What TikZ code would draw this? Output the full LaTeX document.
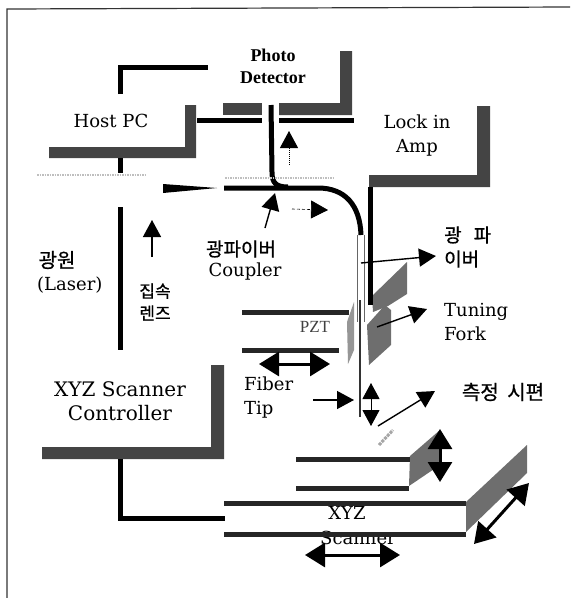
\documentclass[tikz,border=0pt]{standalone}
\usepackage{fontspec}
\usepackage{tikz}
\usetikzlibrary{arrows.meta,positioning,calc}
\setmainfont{DejaVu Serif}
\newfontfamily\korfont[FakeBold=0.8]{Noto Sans CJK KR}
\newfontfamily\timesfont{Liberation Serif}
\definecolor{bardark}{RGB}{68,68,68}
\definecolor{barside}{RGB}{110,110,110}
\definecolor{barlight}{RGB}{150,150,150}
\tikzset{
  wire/.style={line width=5pt, black},
  stageline/.style={line width=5pt, black!85},
  greybar/.style={fill=bardark, draw=none},
  sideface/.style={fill=barside, draw=none},
  faint/.style={line width=1.5pt, black!25, densely dotted},
  upperhead/.style={-{Triangle[length=17pt,width=18pt]}, line width=1.4pt},
  twohead/.style={{Triangle[length=20pt,width=24pt]}-{Triangle[length=20pt,width=24pt]}, line width=3pt},
  smalltwohead/.style={{Triangle[length=16pt,width=17pt]}-{Triangle[length=16pt,width=17pt]}, line width=1pt},
  textlabel/.style={align=center, inner sep=0pt, font=\fontsize{18}{24}\selectfont},
  korlabel/.style={align=center, inner sep=0pt, font=\korfont\fontsize{19}{24}\selectfont}
}

\begin{document}
\begin{tikzpicture}[x=1pt,y=-1pt]
  \useasboundingbox (0,0) rectangle (579,598);
  % frame: only top and left survive
  \draw[line width=1.2pt, black!80] (7,598) -- (7,9) -- (570,7);

  % grey housing bars
  \fill[greybar] (49,147) -- (185,147) -- (185,105) -- (196,105) -- (196,158) -- (49,158) -- cycle;
  \fill[greybar] (223,103) rectangle (262,115);
  \fill[greybar] (279,103) -- (340,103) -- (340,51) -- (352,51) -- (352,115) -- (279,115) -- cycle;
  \fill[greybar] (369,175) -- (477,175) -- (477,106) -- (490,106) -- (490,187) -- (369,187) -- cycle;
  \fill[greybar] (42,447) -- (211,447) -- (211,365) -- (224,365) -- (224,459) -- (42,459) -- cycle;

  % tuning fork, pzt and stage side faces
  \fill[barside] (372,296) -- (407,262) -- (407,294) -- (388,306) -- (373,312) -- cycle;
  \fill[barside] (367,325) -- (385,305) -- (391,310) -- (391,345) -- (369,365) -- cycle;
  \fill[barlight] (347,322) -- (354,302) -- (354,350) -- (348,364) -- cycle;
  \fill[sideface] (410,456) -- (440,430) -- (440,465) -- (409,486) -- cycle;
  \fill[sideface] (466,502) -- (527,445) -- (527,473) -- (466,532) -- cycle;

  % labels
  \node[textlabel] (hostpc) at (111,121) {Host PC};
  \node[align=center, inner sep=0pt, font=\timesfont\bfseries\fontsize{18}{22}\selectfont] (detector) at (273,66) {Photo\\Detector};
  \node[textlabel] (lockin) at (417,136) {Lock in\\Amp};
  \node[korlabel, font=\korfont\fontsize{20}{24}\selectfont] (laserkr) at (57,260) {광원};
  \node[textlabel, anchor=west] (laser) at (37,285) {(Laser)};
  \node[korlabel, font=\korfont\fontsize{17}{22}\selectfont] (lens) at (155,302) {집속\\렌즈};
  \node[korlabel] (couplerkr) at (241,249) {광파이버};
  \node[textlabel] (coupler) at (245,272) {Coupler};
  \node[korlabel, align=left, anchor=west] (fiberkr) at (444,247) {광\hspace{12pt}파\\이버};
  \node[textlabel, align=left, anchor=west] (fork) at (444,322) {Tuning\\Fork};
  \node[inner sep=0pt, font=\timesfont\fontsize{17}{18}\selectfont, black!75] (pzt) at (315,327) {PZT};
  \node[textlabel, align=left, anchor=west] (tip) at (244,398) {Fiber\\Tip};
  \node[korlabel, font=\korfont\fontsize{20}{24}\selectfont] (sample) at (503,392) {측정\hspace{4pt} 시편};
  \node[textlabel, font=\fontsize{20}{24}\selectfont] (scanctl) at (120,401) {XYZ Scanner\\Controller};
  \node[textlabel] (stagexyz) at (347,513) {XYZ};
  \node[textlabel] (stagescan) at (358,538) {Scanner};

  % end points of the wiring
  \coordinate (pctop) at (120,94);
  \coordinate (pccorner) at (120,67);
  \coordinate (pcend) at (208,67);
  \coordinate (pdleft) at (197,120);
  \coordinate (pdleftend) at (262,120);
  \coordinate (pdright) at (279,120);
  \coordinate (pdrightend) at (354,120);
  \coordinate (drop) at (120,158);
  \coordinate (dropend) at (120,173);
  \coordinate (laserup) at (120,207);
  \coordinate (laserlow) at (120,350);
  \coordinate (lockdown) at (370,187);
  \coordinate (lockend) at (370,305);
  \coordinate (ctlbar) at (120,459);
  \coordinate (ctlcorner) at (120,518);
  \coordinate (ctlend) at (225,518);
  \coordinate (fiberin) at (224,188);
  \coordinate (fiberbend) at (318,188);
  \coordinate (fiberdown) at (361,235);
  \coordinate (pdfiber) at (271,105);
  \coordinate (pdbend) at (272,172);
  \coordinate (pdjoin) at (288,187);

  % wiring
  \draw[wire] (pctop) -- (pccorner) -- (pcend);
  \draw[wire] (pdleft) -- (pdleftend);
  \draw[wire] (pdright) -- (pdrightend);
  \draw[wire] (drop) -- (dropend);
  \draw[wire] (laserup) -- (laserlow);
  \draw[wire] (lockdown) -- (lockend);
  \draw[wire] (ctlbar) -- (ctlcorner) -- (ctlend);

  % fiber with its branch to the detector
  \draw[wire] (fiberin) -- (fiberbend) .. controls (345,188) and (360,205) .. (fiberdown);
  \draw[wire] (pdfiber) -- (pdbend) .. controls (272,183) and (276,187) .. (pdjoin);
  \fill[black] (163,184) -- (163,193) -- (217,188) -- cycle;

  % thin fiber through the probe
  \coordinate (tipa) at (357,235);
  \coordinate (tipaend) at (357,322);
  \coordinate (tipb) at (364,235);
  \coordinate (tipbend) at (364,322);
  \coordinate (tipc) at (360,300);
  \coordinate (tipcend) at (360,417);
  \draw[line width=1pt, black!60] (tipa) -- (tipaend);
  \draw[line width=1pt, black!60] (tipb) -- (tipbend);
  \draw[line width=1.3pt, black!80] (tipc) -- (tipcend);

  % faint lens and beam lines
  \coordinate (lensa) at (37,175);
  \coordinate (lensb) at (147,175);
  \coordinate (beama) at (225,178);
  \coordinate (beamb) at (335,178);
  \coordinate (samplea) at (379,445);
  \coordinate (sampleb) at (393,430);
  \draw[faint] (lensa) -- (lensb);
  \draw[faint] (beama) -- (beamb);
  \draw[line width=3pt, black!35, densely dotted] (samplea) -- (sampleb);

  % pzt and stage plates
  \coordinate (pzta) at (242,312);
  \coordinate (pztb) at (349,312);
  \coordinate (pztc) at (242,350);
  \coordinate (pztd) at (339,350);
  \coordinate (uppera) at (296,459);
  \coordinate (upperb) at (410,459);
  \coordinate (upperc) at (296,488);
  \coordinate (upperd) at (409,488);
  \coordinate (lowera) at (224,503);
  \coordinate (lowerb) at (466,503);
  \coordinate (lowerc) at (224,534);
  \coordinate (lowerd) at (466,534);
  \draw[stageline] (pzta) -- (pztb);
  \draw[stageline] (pztc) -- (pztd);
  \draw[stageline] (uppera) -- (upperb);
  \draw[stageline] (upperc) -- (upperd);
  \draw[stageline] (lowera) -- (lowerb);
  \draw[stageline] (lowerc) -- (lowerd);

  % pointer arrows
  \coordinate (lensfrom) at (152,257);
  \coordinate (lensto) at (152,220);
  \coordinate (beamfrom) at (289,165);
  \coordinate (beamto) at (289,131);
  \coordinate (couplerfrom) at (265,228);
  \coordinate (couplerto) at (275,193);
  \coordinate (lightfrom) at (292,209);
  \coordinate (lightto) at (328,210);
  \coordinate (fiberfrom) at (361,263);
  \coordinate (fiberto) at (436,256);
  \coordinate (forkfrom) at (377,327);
  \coordinate (forkto) at (427,309);
  \coordinate (tipfrom) at (313,400);
  \coordinate (tipto) at (354,400);
  \coordinate (samplefrom) at (378,426);
  \coordinate (sampleto) at (435,391);
  \draw[upperhead] (lensfrom) -- (lensto);
  \draw[upperhead, line width=1pt, densely dotted] (beamfrom) -- (beamto);
  \draw[upperhead] (couplerfrom) -- (couplerto);
  \draw[upperhead, line width=.6pt, densely dashed] (lightfrom) -- (lightto);
  \draw[upperhead] (fiberfrom) -- (fiberto);
  \draw[upperhead] (forkfrom) -- (forkto);
  \draw[upperhead] (tipfrom) -- (tipto);
  \draw[upperhead] (samplefrom) -- (sampleto);

  % motion arrows
  \coordinate (pztleft) at (259,364);
  \coordinate (pztright) at (330,364);
  \coordinate (zup) at (371,383);
  \coordinate (zdown) at (371,426);
  \coordinate (stagetop) at (440,429);
  \coordinate (stagelow) at (440,482);
  \coordinate (scanup) at (529,483);
  \coordinate (scandown) at (474,544);
  \coordinate (scanleft) at (305,555);
  \coordinate (scanright) at (400,555);
  \draw[twohead] (pztleft) -- (pztright);
  \draw[smalltwohead] (zup) -- (zdown);
  \draw[twohead] (stagetop) -- (stagelow);
  \draw[twohead] (scanup) -- (scandown);
  \draw[twohead] (scanleft) -- (scanright);
\end{tikzpicture}
\end{document}
